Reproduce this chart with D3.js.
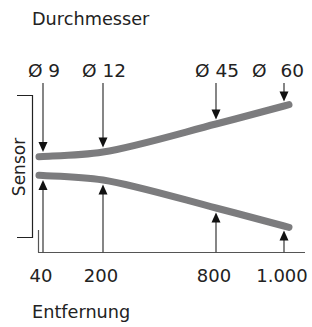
<!DOCTYPE html>
<html>
<head>
<meta charset="utf-8">
<script src="https://cdn.jsdelivr.net/npm/d3@7"></script>
<style>
  body { margin: 0; background: #fff; }
  text { font-family: "DejaVu Sans", sans-serif; fill: #222; }
</style>
</head>
<body>
<div id="chart"></div>
<script>
// data: distance (mm) and beam diameter (mm)
var distances = [40, 200, 800, 1000];
var diameters = [9, 12, 45, 60];
var distLabels = ["40", "200", "800", "1.000"];
var diamLabels = ["Ø 9", "Ø 12", "Ø 45", "Ø 60"];

var width = 312, height = 327;

var svg = d3.select("#chart")
  .append("svg")
    .attr("width", width)
    .attr("height", height);

// schematic distance scale (not to scale in the original)
var x = d3.scaleLinear()
  .domain(distances)
  .range([43, 103, 216, 284]);

// half beam width, also schematic
var r = d3.scaleLinear()
  .domain([0, 9, 12, 45, 60])
  .range([0, 9.5, 14, 42, 60]);

var yMid = 166;
var arrowTop = 83, axisY = 252.5;

// titles
svg.append("text")
  .attr("x", 32).attr("y", 24.5)
  .style("font-size", "17.7px")
  .text("Durchmesser");

svg.append("text")
  .attr("x", 32).attr("y", 318)
  .style("font-size", "17.7px")
  .text("Entfernung");

// Sensor bracket
svg.append("path")
  .attr("d", "M17,95.5H32.5V237.5H17")
  .attr("fill", "none")
  .attr("stroke", "#222")
  .attr("stroke-width", 1.2);

svg.append("text")
  .attr("transform", "translate(25," + 167 + ")rotate(-90)")
  .attr("text-anchor", "middle")
  .style("font-size", "17px")
  .text("Sensor");

// bottom axis line + start mark
svg.append("line")
  .attr("x1", 38).attr("x2", 305)
  .attr("y1", axisY).attr("y2", axisY)
  .attr("stroke", "#555").attr("stroke-width", 1.2);
svg.append("line")
  .attr("x1", 38.5).attr("x2", 38.5)
  .attr("y1", 230).attr("y2", axisY)
  .attr("stroke", "#555").attr("stroke-width", 1.2);

// tick labels
svg.selectAll(".dlab")
  .data(distances)
  .enter()
  .append("text")
    .attr("x", function(d) { return x(d) - 2; })
    .attr("y", 282)
    .attr("text-anchor", "middle")
    .style("font-size", "18px")
    .text(function(d, i) { return distLabels[i]; });

// diameter labels: "Ø" and number; the last one is pushed to the right edge
svg.selectAll(".ulab")
  .data(distances)
  .enter()
  .append("g")
  .each(function(d, i) {
    var parts = diamLabels[i].split(" ");
    var g = d3.select(this);
    var last = i === distances.length - 1;
    if (!last) {
      g.append("text")
        .attr("x", x(d) + 1).attr("y", 77)
        .attr("text-anchor", "middle")
        .style("font-size", "18.5px")
        .text(diamLabels[i]);
    } else {
      g.append("text")
        .attr("x", x(d) - 32).attr("y", 77)
        .style("font-size", "18.5px")
        .text(parts[0]);
      g.append("text")
        .attr("x", 304).attr("y", 77)
        .attr("text-anchor", "end")
        .style("font-size", "18.5px")
        .text(parts[1]);
    }
  });

// beam curves
var pts = distances.map(function(d, i) { return {x: x(d), h: r(diameters[i])}; });
function edge(sign) {
  var p = pts.map(function(q) { return [q.x, yMid + sign * q.h]; });
  // small overrun for the round ends
  var a = p[p.length - 2], b = p[p.length - 1];
  var s = (b[1] - a[1]) / (b[0] - a[0]);
  p.unshift([p[0][0] - 4, p[0][1] - sign * 0.3]);
  p.push([b[0] + 5, b[1] + s * 5]);
  return p;
}
var line = d3.line().curve(d3.curveCatmullRom.alpha(0.5));
[-1, 1].forEach(function(sign) {
  svg.append("path")
    .attr("d", line(edge(sign)))
    .attr("fill", "none")
    .attr("stroke", "#7c7c7e")
    .attr("stroke-width", 7)
    .attr("stroke-linecap", "round");
});

// arrows
var head = 10, hw = 4.5;
pts.forEach(function(q) {
  var tipTop = yMid - q.h - 4.5;
  var tipBot = yMid + q.h + 4.5;
  svg.append("line")
    .attr("x1", q.x).attr("x2", q.x)
    .attr("y1", arrowTop).attr("y2", tipTop - head + 1)
    .attr("stroke", "#444").attr("stroke-width", 1.3);
  svg.append("path")
    .attr("d", "M" + (q.x - hw) + "," + (tipTop - head) + "L" + (q.x + hw) + "," + (tipTop - head) + "L" + q.x + "," + tipTop + "Z")
    .attr("fill", "#111");
  svg.append("line")
    .attr("x1", q.x).attr("x2", q.x)
    .attr("y1", axisY).attr("y2", tipBot + head - 1)
    .attr("stroke", "#444").attr("stroke-width", 1.3);
  svg.append("path")
    .attr("d", "M" + (q.x - hw) + "," + (tipBot + head) + "L" + (q.x + hw) + "," + (tipBot + head) + "L" + q.x + "," + tipBot + "Z")
    .attr("fill", "#111");
});
</script>
</body>
</html>
